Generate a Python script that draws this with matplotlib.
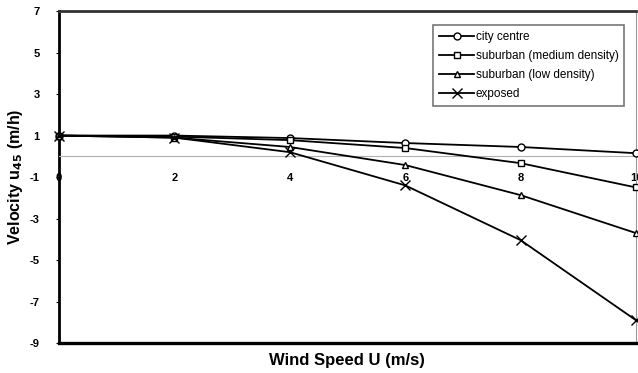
"""
Velocity u45 vs wind speed for four terrain types
"""

import numpy as np
import matplotlib
matplotlib.use("Agg")
import matplotlib.pyplot as plt

plt.rcParams['font.family'] = ['Liberation Sans', 'DejaVu Sans']

############################# Data #############################

wind_speed = [0, 2, 4, 6, 8, 10]

city_centre = [1.0, 1.0, 0.88, 0.64, 0.45, 0.15]
suburban_medium = [1.0, 0.95, 0.78, 0.40, -0.33, -1.5]
suburban_low = [1.0, 0.9, 0.45, -0.42, -1.87, -3.7]
exposed = [1.0, 0.9, 0.2, -1.4, -4.04, -7.9]

series_labels = ["city centre", "suburban (medium density)",
                 "suburban (low density)", "exposed"]

y_ticks = [-9, -7, -5, -3, -1, 1, 3, 5, 7]
x_ticks = [0, 2, 4, 6, 8, 10]

################################################################

fig = plt.figure(figsize=(6.38, 3.73), dpi=100)
ax = fig.add_axes([0.0925, 0.080, 0.9045, 0.8905])

series = [city_centre, suburban_medium, suburban_low, exposed]
markers = ["o", "s", "^", "x"]
sizes = [5, 5, 5, 7]
for vals, m, s, lab in zip(series, markers, sizes, series_labels):
    ax.plot(wind_speed, vals, color="black", linewidth=1.3, marker=m,
            markersize=s, markerfacecolor="white", markeredgecolor="black",
            markeredgewidth=1.0, label=lab, clip_on=False, zorder=3)

ax.set_xlim(0, 10)
ax.set_ylim(-9, 7)

# category axis crosses at zero, frame drawn separately
ax.spines['bottom'].set_position(('data', 0))
ax.spines['bottom'].set_color('#b0b0b0')
ax.spines['bottom'].set_linewidth(0.8)
ax.spines['left'].set_linewidth(2)
ax.spines['top'].set_linewidth(2)
ax.spines['top'].set_color('#333333')
ax.spines['right'].set_linewidth(0.8)
ax.spines['right'].set_color('#999999')
ax.axhline(-9, color="black", linewidth=2.4, clip_on=False, zorder=4)

ax.set_xticks(x_ticks)
ax.set_xticklabels([str(v) for v in x_ticks], fontsize=8, fontweight="bold")
ax.set_yticks(y_ticks)
ax.set_yticklabels([str(v) for v in y_ticks], fontsize=8, fontweight="bold")
ax.tick_params(axis="x", length=0, pad=12)
ax.tick_params(axis="y", length=2, pad=12)

ax.set_ylabel("Velocity u$_\\mathbf{45}$ (m/h)", fontsize=11.5, fontweight="bold",
              labelpad=3)
fig.text(0.544, 0.033, "Wind Speed U (m/s)", fontsize=12, fontweight="bold",
         ha="center", va="center")

leg = ax.legend(loc="upper right", bbox_to_anchor=(0.99, 0.975), fontsize=8.5,
                frameon=True, fancybox=False, edgecolor="#555555",
                handlelength=3, handletextpad=0.1, labelspacing=0.6,
                borderpad=0.5)
leg.get_frame().set_linewidth(1.2)

fig.savefig("out.png", dpi=100)
